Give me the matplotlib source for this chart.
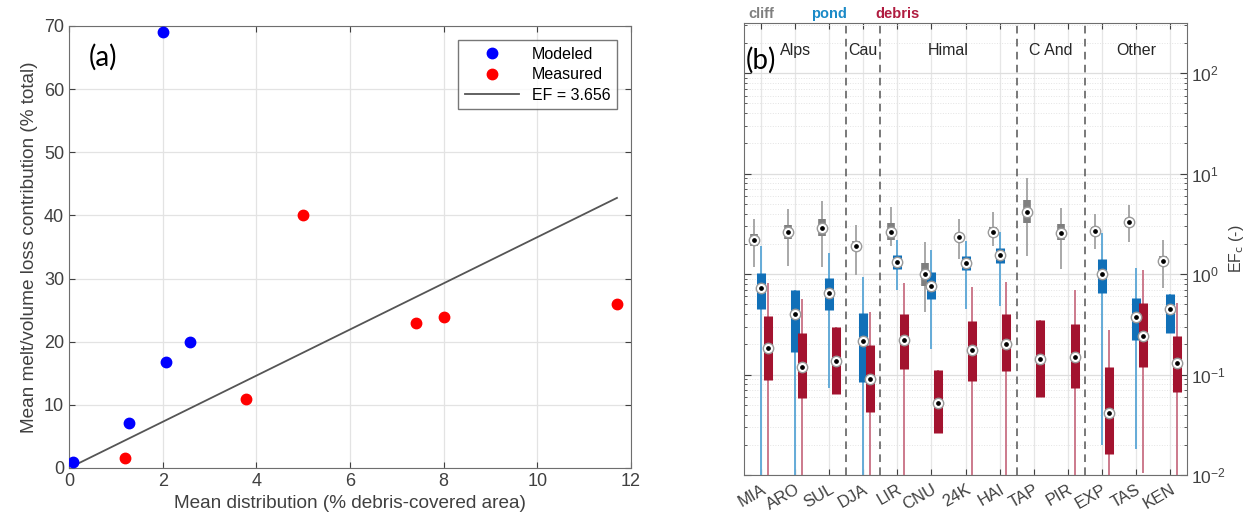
import numpy as np
import matplotlib.pyplot as plt
import matplotlib.transforms as mtransforms
from matplotlib.ticker import LogLocator, NullFormatter

plt.rcParams["font.family"] = ["Liberation Sans", "DejaVu Sans"]

# (a) scatter data
MODELED_X = [0.08, 1.29, 2.0, 2.08, 2.59]
MODELED_Y = [1.0, 7.2, 69.0, 16.8, 19.9]
MEASURED_X = [1.19, 3.79, 4.99, 7.4, 8.0, 11.7]
MEASURED_Y = [1.6, 10.9, 40.0, 22.9, 23.9, 25.9]
EF = 3.656
EF_X = [0.1, 11.7]

# (b) box stats per glacier: median, q1, q3, whisker low, whisker high
GLACIERS = ["MIA", "ARO", "SUL", "DJA", "LIR", "CNU", "24K",
            "HAI", "TAP", "PIR", "EXP", "TAS", "KEN"]
REGIONS = ["Alps", "Cau", "Himal", "C And", "Other"]
REGION_POS = [2, 4, 6.5, 9.5, 12]
REGION_BREAKS = [3.5, 4.5, 8.5, 10.5]

CLIFF = [
    (2.2, 1.9, 2.5, 1.17, 3.5),
    (2.65, 2.26, 3.1, 1.2, 4.4),
    (2.87, 2.4, 3.5, 1.19, 5.3),
    (1.92, 1.68, 2.15, 0.98, 3.05),
    (2.64, 2.2, 3.2, 1.9, 4.7),
    (1.0, 0.77, 1.28, 0.42, 2.07),
    (2.33, 2.12, 2.57, 1.4, 3.56),
    (2.64, 2.34, 2.95, 1.9, 4.2),
    (4.13, 3.2, 5.5, 1.53, 9.1),
    (2.54, 2.17, 3.13, 1.12, 4.6),
    (2.68, 2.44, 2.92, 1.79, 4.0),
    (3.27, 2.95, 3.6, 2.09, 4.9),
    (1.36, 1.21, 1.53, 0.73, 2.17),
]
POND = [
    (0.72, 0.45, 1.03, 0.001, 1.9),
    (0.40, 0.167, 0.70, 0.001, 0.70),
    (0.65, 0.44, 0.91, 0.074, 1.64),
    (0.214, 0.084, 0.41, 0.001, 0.93),
    (1.32, 1.12, 1.55, 0.69, 2.2),
    (0.77, 0.57, 1.04, 0.18, 1.75),
    (1.28, 1.10, 1.50, 0.45, 2.12),
    (1.56, 1.28, 1.83, 0.48, 2.63),
    None,
    None,
    (1.0, 0.65, 1.42, 0.02, 2.54),
    (0.37, 0.22, 0.58, 0.018, 1.14),
    (0.45, 0.26, 0.63, 0.26, 0.63),
]
DEBRIS = [
    (0.185, 0.089, 0.38, 0.001, 0.82),
    (0.12, 0.059, 0.26, 0.001, 0.56),
    (0.136, 0.064, 0.30, 0.064, 0.30),
    (0.09, 0.042, 0.195, 0.001, 0.42),
    (0.22, 0.114, 0.40, 0.001, 0.82),
    (0.052, 0.026, 0.11, 0.026, 0.11),
    (0.174, 0.086, 0.34, 0.001, 0.74),
    (0.2, 0.108, 0.40, 0.001, 0.84),
    (0.142, 0.06, 0.35, 0.06, 0.35),
    (0.151, 0.073, 0.32, 0.001, 0.69),
    (0.041, 0.016, 0.12, 0.001, 0.28),
    (0.24, 0.118, 0.52, 0.0105, 1.1),
    (0.13, 0.067, 0.24, 0.001, 0.51),
]

TXT = "#404040"


def graph_scatter(ax):
    """Panel (a): melt contribution vs debris-covered area."""
    ax.plot(MODELED_X, MODELED_Y, "o", color="#0000ff", ms=7.5, label="Modeled", zorder=3)
    ax.plot(MEASURED_X, MEASURED_Y, "o", color="#ff0000", ms=7.5, label="Measured", zorder=3)
    ex = np.array(EF_X)
    ax.plot(ex, EF * ex, color="#555555", lw=1.3, label=f"EF = {EF}")
    ax.set_xlim(0, 12)
    ax.set_ylim(0, 70)
    ax.set_xticks(range(0, 13, 2))
    ax.set_yticks(range(0, 71, 10))
    ax.grid(color="#e3e3e3", lw=0.9)
    ax.set_axisbelow(True)
    ax.tick_params(direction="in", labelsize=13, colors=TXT, top=True, right=True, length=4)
    for s in ax.spines.values():
        s.set_color("#6e6e6e")
    ax.set_xlabel("Mean distribution (% debris-covered area)", fontsize=13.7, color=TXT)
    ax.set_ylabel("Mean melt/volume loss contribution (% total)", fontsize=13.7, color=TXT)
    leg = ax.legend(loc="upper right", fontsize=11.5, fancybox=False, handlelength=3.4,
                    borderaxespad=0.9, labelspacing=0.35, edgecolor="#555555")
    leg.get_frame().set_linewidth(1.0)
    ax.text(0.73, 65, "(a)", fontsize=20, family=["Lato", "DejaVu Sans"],
            ha="center", va="center")


def draw_boxes(ax, stats, offset, box_c, whisk_c, box_w):
    """Compact style boxes: thin whisker, thick box, circled median."""
    for i, st in enumerate(stats):
        if st is None:
            continue
        x = i + 1 + offset
        med, q1, q3, lo, hi = st
        ax.vlines(x, lo, hi, colors=whisk_c, lw=1.4, zorder=2)
        ax.vlines(x, q1, q3, colors=box_c, lw=box_w, capstyle="butt", zorder=3)
        ax.plot(x, med, "o", ms=7.5, mfc="white", mec="#9a9a9a", mew=1.0, zorder=4)
        ax.plot(x, med, "o", ms=2.4, color="black", zorder=5)


def graph_boxes(ax):
    """Panel (b): enhancement factors per glacier."""
    ax.set_yscale("log")
    ax.set_xlim(0.5, 13.5)
    ax.set_ylim(1e-2, 10 ** 2.5)
    draw_boxes(ax, CLIFF, -0.2, "#7f7f7f", "#a8a8a8", 5.5)
    draw_boxes(ax, POND, 0.0, "#1170b8", "#64abd8", 6.5)
    draw_boxes(ax, DEBRIS, 0.2, "#a3132f", "#cc7a8c", 6.5)

    for xb in REGION_BREAKS:
        ax.axvline(xb, color="#555555", lw=1.1, ls=(0, (5, 3.5)), zorder=1)
    for name, xr in zip(REGIONS, REGION_POS):
        ax.text(xr, 170, name, fontsize=11.5, ha="center", va="center", color="#262626")

    ax.set_xticks(range(1, len(GLACIERS) + 1))
    ax.set_xticklabels(GLACIERS, rotation=30, ha="right", rotation_mode="anchor")
    ax.yaxis.set_major_locator(LogLocator(base=10, numticks=10))
    ax.yaxis.set_minor_locator(LogLocator(base=10, subs=np.arange(2, 10), numticks=20))
    ax.yaxis.set_minor_formatter(NullFormatter())
    ax.yaxis.tick_right()
    ax.yaxis.set_label_position("right")
    ax.tick_params(axis="both", which="both", direction="in", left=True, right=True,
                   top=True, bottom=True, colors=TXT)
    ax.tick_params(axis="y", which="major", labelsize=12.5, length=5, pad=3)
    ax.tick_params(axis="y", which="minor", length=2.5)
    ax.tick_params(axis="x", labelsize=12, length=4, pad=5)
    ax.grid(axis="x", color="#e6e6e6", lw=0.9)
    ax.grid(axis="y", which="major", color="#dedede", lw=0.9)
    ax.grid(axis="y", which="minor", color="#e4e4e4", lw=0.7, ls=":")
    ax.set_axisbelow(True)
    for s in ax.spines.values():
        s.set_color("#6e6e6e")
    ax.set_ylabel("EF$_\\mathrm{c}$ (-)", fontsize=11.5, color=TXT, labelpad=1)

    trans = mtransforms.blended_transform_factory(ax.transData, ax.transAxes)
    for label, xp, col in [("cliff", 1, "#7f7f7f"), ("pond", 3, "#1b8ac7"),
                           ("debris", 5, "#b01c40")]:
        ax.text(xp, 1.004, label, transform=trans, fontsize=10.5, fontweight="bold",
                color=col, ha="center", va="bottom")
    ax.text(0.005, 0.918, "(b)", transform=ax.transAxes, fontsize=20,
            family=["Lato", "DejaVu Sans"], ha="left", va="center")


def main():
    """Main function."""
    fig = plt.figure(figsize=(12.48, 5.21), dpi=100)
    ax1 = fig.add_axes([69 / 1248, 1 - 468 / 521, (631 - 69) / 1248, (468 - 26) / 521])
    ax2 = fig.add_axes([744 / 1248, 1 - 475 / 521, (1187 - 744) / 1248, (475 - 23) / 521])
    graph_scatter(ax1)
    graph_boxes(ax2)
    fig.savefig("out.png", dpi=100, facecolor="white")


if __name__ == "__main__":
    main()
